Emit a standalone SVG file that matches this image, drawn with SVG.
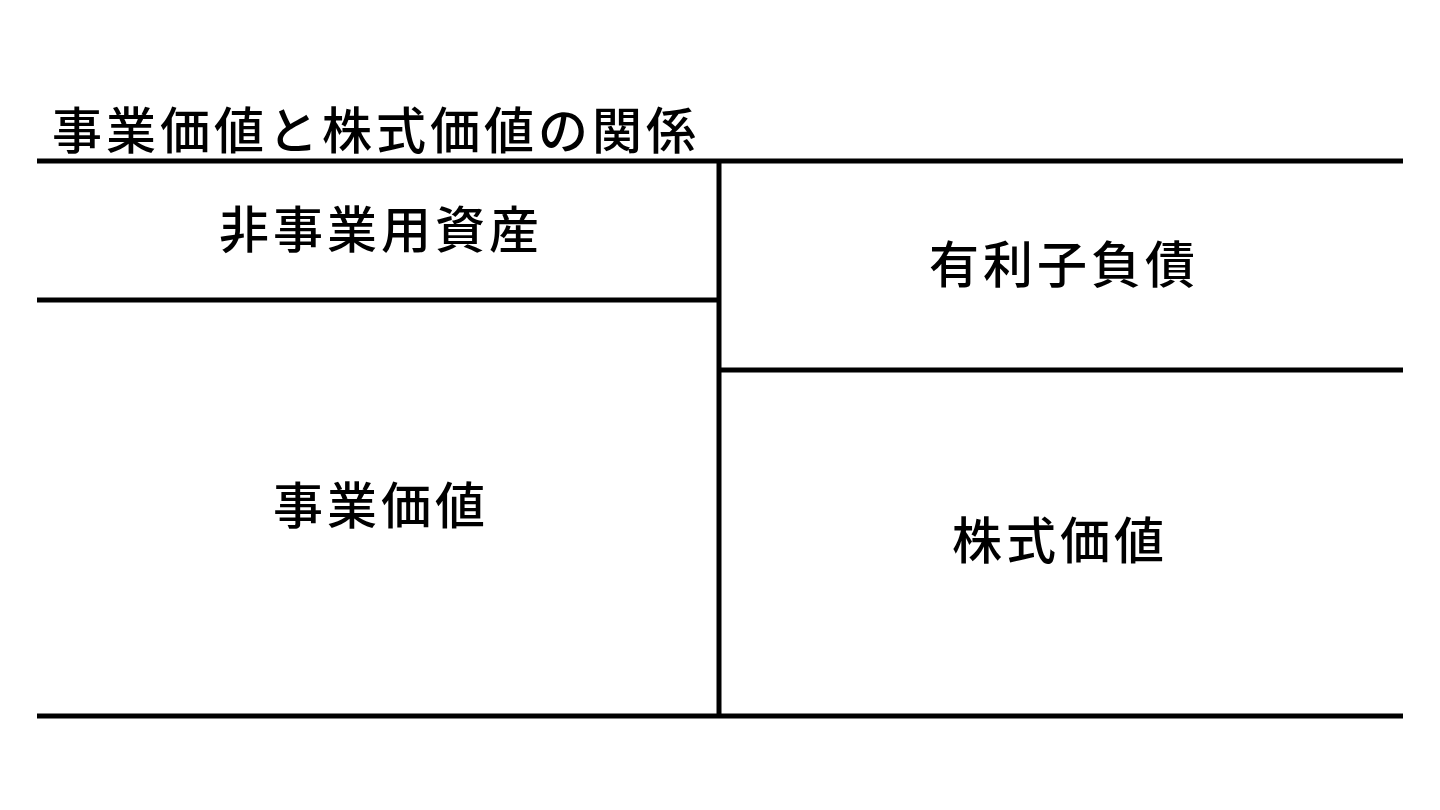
<svg xmlns="http://www.w3.org/2000/svg" width="1440" height="810" viewBox="0 0 1440 810">
<style>
.ln{stroke:#000;stroke-width:5;fill:none}
.t{font-family:"Noto Sans CJK JP","Noto Sans CJK SC",sans-serif;font-size:50px;font-weight:500;fill:#000;letter-spacing:4px;dominant-baseline:central}
.c{text-anchor:middle}
</style>
<rect width="1440" height="810" fill="#fff"/>
<g id="title"><text class="t" x="52" y="127">事業価値と株式価値の関係</text></g>
<g id="connectors">
<line class="ln" x1="37" y1="161" x2="1403" y2="161"/>
<line class="ln" x1="37" y1="716" x2="1403" y2="716"/>
<line class="ln" x1="719" y1="161" x2="719" y2="716"/>
<line class="ln" x1="37" y1="300" x2="719" y2="300"/>
<line class="ln" x1="719" y1="370" x2="1403" y2="370"/>
</g>
<g id="non-operating-assets"><text class="t c" x="381" y="226">非事業用資産</text></g>
<g id="interest-bearing-debt"><text class="t c" x="1064" y="261">有利子負債</text></g>
<g id="enterprise-value"><text class="t c" x="381" y="502">事業価値</text></g>
<g id="equity-value"><text class="t c" x="1060" y="537">株式価値</text></g>
</svg>
